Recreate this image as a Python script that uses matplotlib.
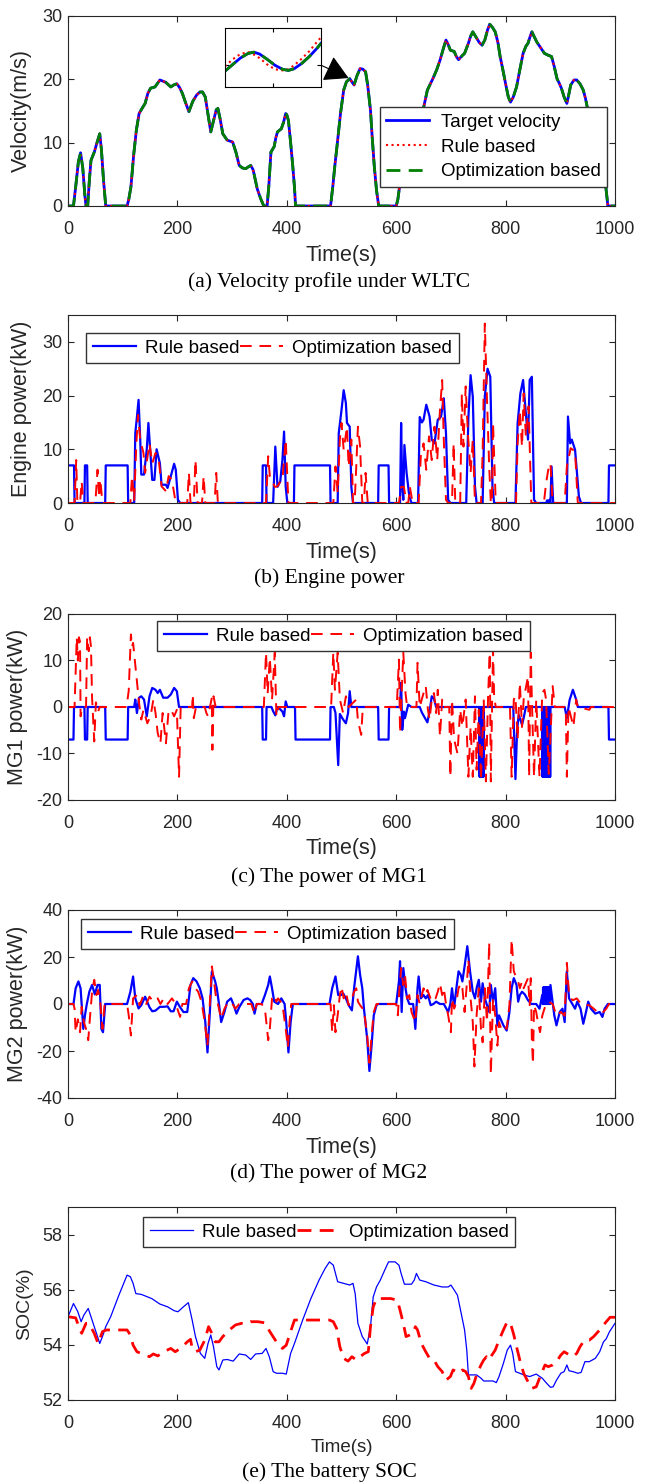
import numpy as np
import matplotlib
matplotlib.use('Agg')
import matplotlib.pyplot as plt

plt.rcParams['font.family'] = ['Liberation Sans', 'DejaVu Sans']
plt.rcParams['axes.unicode_minus'] = False

# ---- (a) velocity, m/s ----
vel_target = [(0, 0), (10, 0), (14, 3), (19, 7), (23, 8.4), (27, 6), (31, 1.5), (33, 0), (36, 0), (39, 4),
              (42, 7.2), (48, 8.5), (53, 10), (58, 11.4), (61, 9), (65, 4), (69, 0), (108, 0), (111, 1),
              (115, 3), (120, 8), (125, 12), (130, 14.6), (136, 15.5), (141, 16.2), (146, 17.8), (151, 18.6),
              (159, 18.8), (168, 19.9), (174, 19.7), (179, 19.5), (188, 18.8), (193, 19.1), (199, 19.3),
              (204, 18.7), (209, 17.8), (215, 16.3), (221, 14.9), (228, 16.5), (235, 17.5), (241, 18),
              (246, 18), (251, 17.2), (256, 14.5), (261, 11.7), (267, 13.8), (271, 15.2), (274, 15.4),
              (278, 13.8), (283, 11.4), (291, 10.4), (301, 10.1), (307, 8.5), (313, 6.4), (319, 6), (325, 5.9),
              (330, 6.2), (334, 6.4), (338, 5.8), (340, 5.1), (346, 2.7), (352, 1.2), (358, 0), (364, 0),
              (367, 3), (371, 8.5), (377, 9.4), (380, 10.8), (383, 11.7), (390, 12.2), (394, 13.2), (398, 14.6),
              (400, 14.4), (403, 13.5), (407, 10), (411, 6.2), (414, 3), (416, 0), (480, 0), (484, 3),
              (488, 6.5), (493, 10.4), (498, 14.5), (504, 18.3), (509, 19.6), (515, 20.1), (519, 19.6),
              (523, 19.1), (528, 20.5), (534, 21.7), (539, 21.6), (544, 21.2), (548, 19), (553, 15.1),
              (556, 11), (560, 6.2), (564, 2.5), (568, 0), (600, 0), (603, 1), (606, 3), (612, 5.5), (620, 8),
              (630, 10.5), (640, 13), (650, 15.5), (657, 18.3), (667, 20.1), (674, 21.5), (680, 23),
              (686, 24.8), (691, 26.2), (695, 25.5), (699, 24.6), (706, 24.4), (710, 23.6), (714, 23.1),
              (719, 23.6), (725, 24.1), (732, 25.7), (736, 26.8), (740, 27.5), (747, 26.5), (752, 25.8),
              (757, 25.4), (762, 26.2), (767, 27.8), (771, 28.7), (776, 28.2), (781, 27.5), (786, 25.8),
              (790, 23.6), (795, 21.5), (800, 19.3), (805, 17.2), (809, 16.4), (814, 17.2), (820, 18.8),
              (826, 21.5), (832, 24.1), (837, 25.2), (841, 25.7), (845, 26.8), (848, 27.5), (852, 26.8),
              (857, 25.9), (864, 25), (871, 24.1), (878, 23.8), (884, 23.6), (889, 22), (894, 20.1),
              (898, 19.4), (902, 18.6), (907, 17.2), (912, 16.2), (916, 17.8), (919, 19.1), (925, 19.9),
              (930, 19.9), (936, 19.3), (942, 18.3), (946, 17), (949, 15.7), (955, 14), (960, 12.5),
              (965, 11.8), (969, 10.9), (973, 9.5), (977, 7.7), (982, 4), (987, 0), (1000, 0)]
vel_rule = vel_target
vel_opt = vel_target

# zoomed-in window (inset)
inset_t = [507, 509, 511, 513, 514.5, 516, 518, 520, 522, 523.5, 525, 527, 529, 531, 532]
inset_v_target = [19.16, 19.52, 19.87, 20.12, 20.19, 20.09, 19.80, 19.48, 19.26, 19.20, 19.29, 19.58, 19.96, 20.41, 20.67]
inset_v_rule = [19.42, 19.80, 20.09, 20.19, 20.06, 19.87, 19.52, 19.26, 19.20, 19.26, 19.48, 19.84, 20.25, 20.76, 20.99]
inset_v_opt = inset_v_target

# ---- (b) engine power, kW ----
eng_rule = [(0, 7), (11, 7), (12, 0), (30, 0), (31, 7), (35, 7), (36, 0), (68, 0), (69, 7), (109, 7), (110, 0),
            (121, 0), (123, 13), (126, 16), (129, 19.2), (132, 12), (134, 5.3), (139, 5.3), (144, 10),
            (147, 14.9), (151, 8.7), (154, 4.3), (158, 4.3), (162, 10), (168, 7.4), (171, 3.4), (179, 3.4),
            (182, 2.8), (188, 5), (194, 7.3), (197, 6.2), (201, 0.6), (205, 0), (355, 0), (356, 7), (362, 7),
            (363, 0), (375, 0), (379, 10.5), (383, 3), (388, 4), (392, 8), (395, 13.3), (398, 3), (401, 0),
            (413, 0), (414, 7), (479, 7), (480, 0), (493, 0), (495, 13), (500, 17.3), (504, 21), (508, 18.6),
            (510, 14.9), (515, 14.2), (518, 3), (521, 0), (567, 0), (568, 7), (586, 7), (587, 0), (607, 0),
            (609, 14.9), (611, 3), (613, 0.6), (615, 10.8), (619, 5.6), (624, 1.2), (628, 0), (640, 0),
            (643, 16), (647, 15), (650, 15.5), (655, 18.3), (661, 16.1), (665, 11.8), (670, 11.1), (676, 15.5),
            (682, 16.1), (687, 19.5), (691, 13), (695, 0.6), (699, 0), (728, 0), (732, 16), (736, 23.8),
            (740, 19.8), (744, 3.1), (747, 0), (758, 0), (762, 19.8), (767, 25), (772, 23.5), (776, 3),
            (779, 0), (818, 0), (822, 14.9), (827, 20.4), (832, 22.9), (835, 19.2), (841, 11.8), (844, 22.9),
            (848, 23.5), (852, 0.6), (856, 0), (874, 0), (876, 0.5), (878, 0), (880, 0.6), (882, 0),
            (884, 6.8), (887, 0), (912, 0), (914, 16.1), (918, 11.1), (921, 11.8), (927, 9.9), (930, 6.2),
            (934, 1.2), (938, 0), (988, 0), (989, 7), (1000, 7)]
eng_opt = [(0, 0), (12, 0), (15, 8), (17, 0.5), (22, 0), (25, 4), (28, 0), (50, 0), (54, 6.2), (57, 1), (59, 4.4),
           (63, 0), (114, 0), (117, 5), (121, 0.6), (125, 11.1), (128, 16.4), (132, 11.8), (138, 9.3), (141, 5.6),
           (149, 11.1), (154, 7.4), (160, 9.3), (166, 8), (171, 3.1), (179, 2.2), (184, 5), (190, 4.3),
           (196, 0.6), (199, 0), (218, 0), (221, 5.6), (224, 0), (230, 0), (233, 8), (237, 0), (245, 0),
           (248, 5), (251, 0), (268, 0), (271, 5.6), (274, 0), (362, 0), (366, 8.7), (369, 5), (373, 4.3),
           (378, 3), (383, 3.1), (388, 4), (392, 4.3), (398, 11.8), (403, 0), (485, 0), (489, 6.8), (493, 1.9),
           (497, 11.8), (500, 14.9), (504, 9.9), (510, 14.2), (513, 6.8), (518, 11.8), (521, 0), (524, 0),
           (527, 6.8), (530, 14.2), (534, 10.5), (538, 0), (541, 0), (544, 5.6), (548, 0), (605, 0), (609, 3),
           (614, 3), (619, 0), (622, 0), (625, 3), (630, 0), (641, 0), (645, 8.7), (650, 11.1), (655, 6.2),
           (660, 12.4), (665, 8), (670, 14.2), (675, 8), (680, 17.3), (684, 22.9), (687, 11.8), (691, 0.6),
           (695, 0), (702, 0), (705, 11.1), (708, 0), (717, 0), (720, 20.4), (723, 10.5), (727, 21.7),
           (731, 13), (736, 5.6), (740, 11.8), (744, 0), (755, 0), (758, 9.3), (762, 33.4), (766, 19.2),
           (770, 6.8), (773, 0), (775, 0), (777, 14.9), (782, 0), (819, 0), (822, 11.1), (826, 17.3),
           (830, 10.5), (833, 20.4), (837, 12.4), (842, 18), (847, 0), (870, 0), (874, 3.7), (878, 6.2),
           (882, 7.4), (886, 0), (908, 0), (912, 6.8), (919, 10.2), (927, 9.6), (932, 0), (1000, 0)]

# ---- (c) MG1 power, kW ----
mg1_rule = [(0, -7), (10, -7), (11, 0), (30, 0), (31, -7), (35, -7), (36, 0), (68, 0), (69, -7), (109, -7),
            (110, 0), (121, 0), (123, 1.6), (126, -1.3), (130, 2), (134, 2.3), (139, 1.6), (144, -2), (149, 2.3),
            (154, 4.1), (160, 3.7), (164, 3), (168, 3.7), (174, 2), (182, 2), (188, 2.7), (194, 4.1), (199, 3.4),
            (203, 0), (355, 0), (356, -7), (362, -7), (363, 0), (372, 0), (375, -0.9), (379, -1.8), (383, 0),
            (388, -0.5), (392, -1), (395, -2), (398, 1.2), (401, 0), (415, 0), (416, -7), (479, -7), (480, 0),
            (486, 0), (489, -1.3), (494, -12.5), (497, -1.5), (503, -2.7), (508, -3.5), (512, -1.3), (515, 3.4),
            (518, 0), (567, 0), (568, -7), (586, -7), (587, 0), (607, 0), (609, 5.2), (611, -4.9), (614, -1),
            (616, -2.4), (622, 0.5), (628, 0), (643, 0), (647, -1.2), (654, -2.7), (657, -3.3), (661, -1),
            (665, 2.3), (669, 1.8), (673, 0),
            (752, 0), (752.5, -15), (753, 0), (753.5, -15), (754, 0), (754.5, -15), (755, 0), (755.5, -15),
            (756, 0), (756.5, -15), (757, 0), (757.5, -15), (758, 0), (758.5, -15), (759, 0), (759.5, -15),
            (760, 0), (814, 0), (818, -15.5), (821, -5), (824, -1.7), (830, -3.8), (833, -2.4), (837, 0),
            (867, 0), (867.5, -15), (868, 0), (868.5, -15), (869, 0), (869.5, -15), (870, 0), (870.5, -15),
            (871, 0), (871.5, -15), (872, 0), (872.5, -15), (873, 0), (873.5, -15), (874, 0), (874.5, -15),
            (875, 0), (875.5, -15), (876, 0), (876.5, -15), (877, 0), (877.5, -15), (878, 0), (878.5, -15),
            (879, 0), (879.5, -15), (880, 0), (880.5, -15), (881, 0), (881.5, -15), (882, 0),
            (908, 0), (912, -2.4), (917, 1.5), (923, 3.7), (929, 1.6), (932, 0), (988, 0), (989, -7), (1000, -7)]
mg1_opt = [(0, 0), (12, 0), (16, 15), (18, 10), (20, 15), (22, 14), (23, -2), (26, 0), (33, 0), (35, 15), (38, 12),
           (40, 15), (42, 13), (44, 2), (48, -7.4), (51, 1), (55, -1), (58, 0), (107, 0), (111, 3.5), (115, 15.6),
           (117, 13), (119, 13.8), (123, 9), (126, 5.2), (130, 0.8), (134, -2.7), (138, -0.6), (145, -3.5),
           (151, -2), (156, 1.6), (160, -1.3), (164, -5.6), (169, -7.8), (173, -1.3), (179, -7.8), (184, -0.6),
           (190, -1), (194, -2), (199, -0.6), (203, -15), (206, 0), (227, 0), (228, 2.7), (230, -2.4), (234, 0),
           (250, 0), (253, -1.3), (256, -2), (263, 2), (264, -9.2), (266, 2.3), (270, 0), (358, 0), (362, 11.7),
           (365, 2.9), (369, 10.6), (373, 1.6), (378, 11.7), (381, -2), (385, 0), (481, 0), (485, 11.7),
           (488, 3.7), (493, 11.7), (497, 1.6), (503, -1.3), (508, 2.3), (513, 0), (527, 1.6), (530, -2.9),
           (536, -6), (539, 0), (601, 0), (605, 10.2), (607, -5.6), (613, 11.7), (617, 3), (620, 0), (637, 0),
           (639, 9.5), (643, 0), (650, 3), (654, 4.5), (658, -0.6), (661, -2.7), (665, 1.6), (669, 3),
           (673, -1.3), (676, 3.7), (680, -6.3), (684, 1.6), (687, 0), (697, 0), (699, -15), (702, 1.6),
           (706, -7), (712, -10), (717, -0.6), (721, -4.2), (727, 1.6), (732, -15), (736, -4.3), (740, -15),
           (744, 2.3), (747, -13.5), (751, -0.6), (755, -15.7), (760, 1.6), (764, -16), (768, 2.3), (771, 11.7),
           (773, -16), (777, 12.4), (779, 2.3), (782, 0), (808, 0), (811, -15), (815, 1.6), (818, 2.3),
           (822, -7), (826, 5.2), (830, -4.3), (833, 1.6), (841, 6.6), (843, -15), (846, 11.7), (848, 1.6),
           (852, -15), (856, 1.6), (862, -15), (867, 3), (871, 3.7), (874, 1.6), (879, -14.4), (886, 4.5),
           (890, 0), (910, 0), (912, -15), (915, 0), (924, -4.2), (929, 1.6), (932, 0), (953, -0.6), (956, 0),
           (1000, 0)]

# ---- (d) MG2 power, kW ----
mg2_rule = [(0, 0), (10, 0), (14, 6.7), (19, 9.6), (23, 6.7), (28, -10.6), (31, -4.8), (34, -0.5), (39, 5.2),
            (44, 8.1), (49, 4.1), (54, 8.1), (58, 8.1), (61, -10.6), (64, -12), (68, 0), (108, 0), (114, 5.2),
            (119, 11.7), (123, 2.4), (129, -1.9), (134, -0.5), (141, 3.1), (149, -1.4), (154, -3.1), (160, -2.8),
            (168, -1.2), (175, -1.2), (182, -1), (188, -3.1), (193, -3.1), (199, 1), (205, -1.4), (211, -3.4),
            (218, -3.4), (224, 8.1), (229, 11), (235, 9.6), (241, 6.7), (246, 2.4), (251, -7.7), (255, -20.6),
            (259, -5), (263, 13.9), (269, 9.6), (272, 6.7), (276, 0), (280, -7.7), (286, -3.4), (291, 1),
            (298, 2.4), (303, -0.5), (308, -4.1), (313, -1.4), (321, 1.7), (328, 2.4), (333, 1.7), (338, 0),
            (341, -4.1), (345, 0), (354, 0), (360, 3.8), (366, 8.1), (369, 11.7), (373, 6.7), (377, 1), (384, 0),
            (390, 2.4), (396, 0), (399, -7.7), (403, -20.6), (407, -7.7), (411, 0), (478, 0), (483, 6.7),
            (489, 11.7), (494, 3.8), (499, 3.8), (503, 4.5), (508, 2.4), (513, -0.5), (519, -2.7), (523, 6.7),
            (527, 14.6), (530, 20.3), (534, 12.4), (538, 6.7), (541, -1.9), (547, -14.9), (551, -28.5),
            (555, -17.7), (559, -4.8), (564, -0.5), (567, 0), (600, 0), (605, 9.6), (607, 18.2), (610, -3.4),
            (613, 15.3), (617, 6.7), (620, 2.4), (624, 0), (631, 0), (635, -10.6), (639, 6.7), (641, 11.7),
            (645, 2.4), (650, 3.8), (654, 2.4), (658, 3.8), (663, -0.5), (668, 0), (673, 1), (680, 0), (687, 0),
            (695, -3.4), (699, 0), (702, 6.7), (706, -1.4), (710, 6.7), (714, 13.9), (718, 12.4), (721, 9.6),
            (725, 16), (730, 24.6), (735, 13.9), (740, 5.2), (744, 2.4), (747, 6.7), (751, 10.3), (755, 1),
            (758, 8.8), (762, 2.4), (766, -0.5), (770, -3.4), (773, 8.1), (777, 1), (781, 6.7), (785, -9.1),
            (788, -4.8), (796, -9.1), (802, -11.3), (807, -3.4), (811, 6.7), (815, 11), (820, 8.1), (823, 1),
            (826, 3.8), (830, 5.2), (835, 4.1), (841, 1.6), (847, 0), (856, 0), (862, -2), (867, 3.8),
            (868, 0), (868.5, 7), (869, 0), (869.5, 7), (870, 0), (870.5, 7), (871, 0), (871.5, 7), (872, 0),
            (872.5, 7), (873, 0), (873.5, 7), (874, 0), (874.5, 7), (875, 0), (875.5, 7), (876, 0), (876.5, 7),
            (877, 0), (877.5, 7), (878, 0), (878.5, 7), (879, 0), (879.5, 7), (880, 0), (880.5, 7), (881, 0),
            (882, 8.1), (889, -4.8), (893, -9.1), (899, -3.4), (904, -2), (908, -7.7), (912, 13.9), (916, 2.4),
            (922, 0), (927, -2), (931, 1), (937, -2), (942, -8.4), (947, -3.4), (951, 1), (956, -2), (964, -4.1),
            (972, -3.4), (977, -5.5), (981, -2), (987, 0), (1000, 0)]
mg2_opt = [(0, 0), (10, 0), (12, -2), (14, -12), (18, -6.5), (22, -12), (25, -1.2), (29, -7.7), (33, -10.6),
           (37, -15.4), (40, -6.3), (44, 5.2), (48, 10.3), (52, 3.8), (55, 6), (59, 1), (63, -10.6), (67, 0),
           (108, 0), (111, -4.8), (115, -13.4), (119, 2.4), (126, 3.8), (131, -0.5), (137, 3.1), (143, 0),
           (149, 3.1), (156, 1), (164, 2.4), (169, 0), (175, 2.4), (182, 0), (190, 2.4), (197, 0), (205, -5.5),
           (209, 0), (216, 0), (221, 6.7), (227, 9.6), (233, 6.7), (238, 5.2), (244, 1), (250, -7.7),
           (255, -17.7), (259, -0.5), (263, 16), (267, 9.6), (270, 3.8), (276, -2), (280, -6.3), (286, -2),
           (291, 0), (298, 1), (306, -2), (313, 0), (335, 0), (341, -4.1), (345, 0), (354, 0), (360, -2),
           (366, -15.4), (369, -10.6), (373, 2.4), (377, 3.8), (381, 1), (384, 2.4), (392, 0), (398, -10.6),
           (402, -18.5), (405, -7.7), (408, 0), (480, 0), (483, -12), (486, -0.5), (489, -12), (493, -4.8),
           (497, 3.8), (500, 7.4), (504, 2.4), (508, 5.2), (513, -0.5), (519, 2.4), (523, 5.2), (527, 6.7),
           (530, 1), (534, -0.5), (541, -2.7), (547, -13.4), (551, -25), (555, -13.4), (559, -3.4), (564, 0),
           (600, 0), (603, -4.8), (606, 6.7), (609, 15.3), (613, 8), (616, 12.4), (620, 2.4), (624, 3.8),
           (628, -3.4), (635, -7.7), (639, 3.8), (643, 0), (650, 6.7), (654, 3.8), (657, 6), (665, 1),
           (672, 2.4), (676, 5.2), (680, 8.8), (684, 3.8), (687, 6.7), (691, 0), (695, -4.8), (700, -12),
           (702, 2.4), (706, -2), (710, 1), (714, 6.7), (718, 8.8), (721, 6.7), (725, -3.4), (729, 8.1),
           (732, 18.9), (736, 2.4), (740, -7.7), (743, -26.6), (747, -4.8), (751, 6.7), (755, -10.6),
           (758, -16.3), (762, 6.7), (766, -7.7), (770, 26.4), (773, -30), (777, 2.4), (781, -4.8), (785, -17.7),
           (788, -7.7), (792, -10.6), (796, -9.1), (802, -10.6), (807, -0.5), (811, 27.5), (815, 13.9), (820, 11),
           (823, 9.6), (826, 6.7), (830, 9.6), (833, 6.7), (841, 11), (844, -0.5), (846, 11), (848, -14.9),
           (850, -25.6), (852, -0.5), (856, -3.4), (859, -7.7), (863, -12), (867, -5), (871, -2), (874, 0),
           (878, 1), (886, 0), (893, -5), (901, -3.4), (908, -5), (912, 17.5), (916, 3.8), (919, 2.4),
           (923, 1.6), (930, 2.4), (938, 0), (945, -0.5), (953, -0.5), (961, -2), (968, -3.4), (976, -4.1),
           (984, -2), (989, 0), (1000, 0)]

# ---- (e) battery SOC, % ----
soc_rule = [(0, 55.02), (10, 55.5), (18, 55.2), (24, 54.84), (29, 55.08), (37, 55.32), (44, 54.9), (52, 54.42),
            (58, 54.05), (63, 54.3), (69, 54.66), (78, 55.02), (93, 55.8), (108, 56.53), (114, 56.47),
            (119, 56.23), (124, 55.86), (134, 55.83), (153, 55.68), (168, 55.48), (182, 55.38), (194, 55.24),
            (201, 55.2), (211, 55.38), (220, 55.53), (227, 54.9), (233, 54.3), (242, 53.69), (250, 53.51),
            (256, 54.05), (261, 54.36), (266, 53.93), (272, 53.21), (276, 53.09), (283, 53.45), (291, 53.47),
            (302, 53.41), (313, 53.67), (325, 53.63), (334, 53.47), (343, 53.67), (355, 53.69), (362, 53.87),
            (368, 53.57), (375, 53.03), (381, 52.97), (392, 52.97), (399, 52.94), (407, 53.69), (414, 54.05),
            (429, 54.9), (444, 55.68), (459, 56.35), (470, 56.77), (478, 57.01), (485, 56.89), (493, 56.29),
            (504, 56.23), (515, 56.17), (521, 56.23), (525, 55.86), (530, 54.78), (538, 54.3), (547, 54.03),
            (553, 54.66), (558, 55.74), (564, 56.1), (571, 56.35), (579, 56.71), (586, 57.01), (598, 57.01),
            (605, 56.89), (609, 56.59), (615, 56.2), (628, 56.2), (633, 56.35), (637, 56.59), (643, 56.35),
            (654, 56.29), (669, 56.17), (684, 56.1), (695, 56.1), (700, 56.17), (706, 55.99), (712, 55.8),
            (717, 55.32), (725, 54.54), (729, 53.81), (732, 52.91), (740, 52.91), (747, 52.91), (755, 52.79),
            (760, 52.69), (770, 52.69), (777, 52.69), (783, 52.63), (788, 52.85), (796, 53.33), (803, 53.81),
            (809, 53.99), (813, 53.69), (818, 53.03), (826, 52.97), (833, 52.91), (844, 52.85), (856, 52.94),
            (867, 52.79), (874, 52.63), (882, 52.46), (887, 52.48), (893, 52.72), (901, 52.97), (907, 53.03),
            (912, 53.27), (916, 53.06), (923, 53.03), (932, 52.97), (938, 53.0), (945, 53.39), (953, 53.39),
            (964, 53.51), (972, 53.75), (979, 54.11), (984, 54.22), (990, 54.48), (1000, 54.78)]
soc_opt = [(0, 55.02), (14, 54.98), (22, 54.54), (25, 54.42), (33, 54.78), (38, 54.78), (48, 54.42), (55, 54.05),
           (63, 54.48), (70, 54.54), (108, 54.54), (114, 54.36), (119, 53.99), (126, 53.75), (134, 53.69),
           (141, 53.63), (149, 53.57), (156, 53.67), (164, 53.6), (171, 53.69), (179, 53.79), (188, 53.87),
           (196, 53.75), (203, 53.84), (211, 53.97), (218, 54.11), (224, 54.2), (227, 53.87), (233, 53.75),
           (241, 53.81), (250, 54.17), (257, 54.66), (263, 54.42), (269, 54.11), (276, 54.11), (283, 54.3),
           (295, 54.54), (306, 54.72), (317, 54.78), (325, 54.75), (334, 54.84), (347, 54.84), (360, 54.8),
           (369, 54.48), (381, 54.11), (392, 53.87), (399, 53.99), (407, 54.48), (414, 54.9), (478, 54.9),
           (485, 54.84), (491, 54.6), (497, 53.93), (504, 53.51), (512, 53.41), (519, 53.57), (527, 53.45),
           (534, 53.57), (542, 53.69), (549, 53.75), (553, 54.66), (558, 55.38), (564, 55.68), (590, 55.68),
           (602, 55.62), (607, 55.26), (613, 54.78), (618, 54.3), (625, 54.36), (631, 54.42), (635, 54.66),
           (639, 54.54), (646, 54.05), (654, 53.75), (661, 53.51), (669, 53.45), (676, 53.21), (684, 53.03),
           (691, 52.72), (699, 52.85), (704, 53.09), (710, 53.03), (715, 52.97), (721, 53.09), (727, 53.03),
           (732, 52.85), (737, 52.42), (742, 52.6), (747, 52.91), (755, 53.27), (760, 53.45), (765, 53.57),
           (770, 53.45), (775, 53.63), (781, 53.81), (788, 54.17), (796, 54.54), (803, 54.84), (809, 54.78),
           (815, 54.36), (820, 53.93), (826, 53.45), (833, 52.97), (841, 52.66), (848, 52.42), (856, 52.48),
           (862, 52.79), (867, 53.03), (872, 53.27), (878, 53.21), (886, 53.27), (893, 53.39), (901, 53.63),
           (907, 53.75), (912, 53.69), (917, 53.63), (923, 53.57), (930, 53.69), (936, 53.93), (944, 54.17),
           (953, 54.17), (961, 54.3), (972, 54.54), (984, 54.84), (991, 55.0), (1000, 55.0)]

BLUE = '#0000ff'
RED = '#ff0000'
GREEN = '#008000'
W, H = 647.0, 1484.0
LEG_SIZE = 13.5


def xy(pairs):
    a = np.array(pairs, dtype=float)
    return a[:, 0], a[:, 1]


def make_axes(top, bottom):
    return fig.add_axes([68 / W, 1 - bottom / H, (615 - 68) / W, (bottom - top) / H])


def style(ax, ylim, yticks, ylabel, ylab_x, xlab_y, ylab_size=15.5, xlab_size=15.5):
    ax.set_xlim(0, 1000)
    ax.set_xticks(np.arange(0, 1001, 200))
    ax.set_ylim(*ylim)
    ax.set_yticks(yticks)
    ax.tick_params(direction='in', top=True, right=True, length=4, width=0.8,
                   labelsize=13, colors='0.15')
    ax.tick_params(axis='x', pad=11)
    ax.tick_params(axis='y', pad=4)
    for s in ax.spines.values():
        s.set_linewidth(0.8)
        s.set_color('0.15')
    ax.set_xlabel('Time(s)', fontsize=xlab_size, va='center', color='0.15')
    ax.xaxis.set_label_coords(0.5, xlab_y)
    ax.set_ylabel(ylabel, fontsize=ylab_size, va='center', color='0.15')
    ax.yaxis.set_label_coords(ylab_x, 0.5)


def hlegend(ax, x0, y1):
    leg = ax.legend(ncol=2, loc='upper left', bbox_to_anchor=(x0, y1), fontsize=LEG_SIZE,
                    columnspacing=0.0, handlelength=2.3, handletextpad=0.5,
                    borderpad=0.35, borderaxespad=0, fancybox=False, framealpha=1)
    leg.get_frame().set_edgecolor('0.2')
    leg.get_frame().set_linewidth(1.0)
    return leg


def caption(text, y):
    fig.text(329 / W, 1 - y / H, text, family='Liberation Serif', fontsize=15.5,
             ha='center', va='center')


fig = plt.figure(figsize=(6.47, 14.84), dpi=100)

# (a)
ax = make_axes(16, 206)
t, v = xy(vel_target)
ax.plot(t, v, color=BLUE, lw=2, label='Target velocity')
t, v = xy(vel_rule)
ax.plot(t, v, color=RED, lw=1.5, ls=':', label='Rule based')
t, v = xy(vel_opt)
ax.plot(t, v, color=GREEN, lw=2, ls='--', dashes=(5, 3), label='Optimization based')
style(ax, (0, 30), [0, 10, 20, 30], 'Velocity(m/s)', -0.085, -0.258)
leg = ax.legend(loc='upper left', bbox_to_anchor=(0.57, 0.52), fontsize=LEG_SIZE, handlelength=2.3,
                handletextpad=0.6, borderpad=0.35, borderaxespad=0, labelspacing=0.4,
                fancybox=False, framealpha=1)
leg.get_frame().set_edgecolor('0.2')
leg.get_frame().set_linewidth(1.0)
caption('(a) Velocity profile under WLTC', 282)

axin = fig.add_axes([225 / W, 1 - 87 / H, 96 / W, 59 / H])
axin.plot(inset_t, inset_v_target, color=BLUE, lw=2)
axin.plot(inset_t, inset_v_rule, color=RED, lw=1.5, ls=':')
axin.plot(inset_t, inset_v_opt, color=GREEN, lw=2, ls='--', dashes=(5, 3))
axin.set_xlim(507, 532)
axin.set_ylim(18.3, 21.5)
axin.set_xticks([519.5])
axin.set_yticks([19.5])
axin.tick_params(direction='in', top=True, right=True, length=3, width=0.8,
                 labelbottom=False, labelleft=False)
for s in axin.spines.values():
    s.set_linewidth(0.8)
ax.annotate('', xy=(513, 20.2), xycoords='data', xytext=(1.0, 0.37), textcoords=axin.transAxes,
            arrowprops=dict(arrowstyle='-|>,head_length=0.75,head_width=0.42', mutation_scale=20,
                            color='k', lw=0.8, shrinkA=0, shrinkB=0))

# (b)
ax = make_axes(315, 503)
t, p = xy(eng_rule)
ax.plot(t, p, color=BLUE, lw=1.6, label='Rule based')
t, p = xy(eng_opt)
ax.plot(t, p, color=RED, lw=1.4, ls='--', dashes=(6, 4), label='Optimization based')
style(ax, (0, 35), [0, 10, 20, 30], 'Engine power(kW)', -0.085, -0.261)
hlegend(ax, 0.033, 0.904)
caption('(b) Engine power', 578)

# (c)
ax = make_axes(614, 800)
t, p = xy(mg1_rule)
ax.plot(t, p, color=BLUE, lw=1.6, label='Rule based')
t, p = xy(mg1_opt)
ax.plot(t, p, color=RED, lw=1.4, ls='--', dashes=(6, 4), label='Optimization based')
style(ax, (-20, 20), [-20, -10, 0, 10, 20], 'MG1 power(kW)', -0.092, -0.263)
hlegend(ax, 0.163, 0.962)
caption('(c) The power of MG1', 877)

# (d)
ax = make_axes(910, 1098)
t, p = xy(mg2_rule)
ax.plot(t, p, color=BLUE, lw=1.6, label='Rule based')
t, p = xy(mg2_opt)
ax.plot(t, p, color=RED, lw=1.4, ls='--', dashes=(6, 4), label='Optimization based')
style(ax, (-40, 40), [-40, -20, 0, 20, 40], 'MG2 power(kW)', -0.092, -0.261)
hlegend(ax, 0.024, 0.952)
caption('(d) The power of MG2', 1173)

# (e)
ax = make_axes(1207, 1400)
t, s = xy(soc_rule)
ax.plot(t, s, color=BLUE, lw=0.9, label='Rule based')
t, s = xy(soc_opt)
ax.plot(t, s, color=RED, lw=2, ls='--', dashes=(5, 3), label='Optimization based')
style(ax, (52, 59), [52, 54, 56, 58], 'SOC(%)', -0.08, -0.244, ylab_size=14, xlab_size=13.5)
hlegend(ax, 0.137, 0.948)
caption('(e) The battery SOC', 1472)

fig.savefig('out.png', dpi=100)
